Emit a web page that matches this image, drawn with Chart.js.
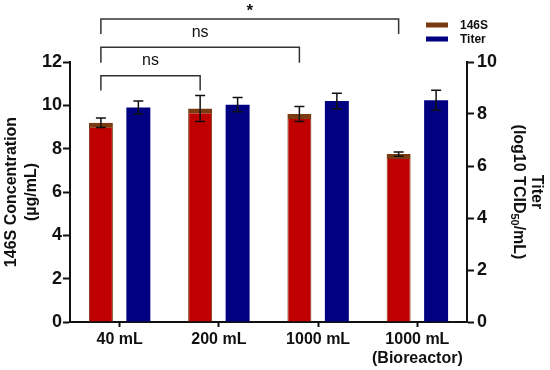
<!DOCTYPE html>
<html>
<head>
<meta charset="utf-8">
<script src="https://cdn.jsdelivr.net/npm/chart.js@4"></script>
<style>
  html, body { margin: 0; padding: 0; background: #fff; }
  #wrap { width: 550px; height: 370px; position: relative; }
</style>
</head>
<body>
<div id="wrap"><canvas id="c" width="550" height="370"></canvas></div>
<script>
// ---- data ----
const categories = ['40 mL', '200 mL', '1000 mL', ['1000 mL', '(Bioreactor)']];
const concValues = [9.2, 9.85, 9.6, 7.75];
const concErrors = [0.22, 0.6, 0.35, 0.1];
const titerValues = [8.25, 8.36, 8.5, 8.53];
const titerErrors = [0.25, 0.27, 0.3, 0.38];
const leftTicks = [0, 2, 4, 6, 8, 10, 12];
const rightTicks = [0, 2, 4, 6, 8, 10];
const compFrom = [0, 0, 0];
const compTo = [1, 2, 3];
const compLabels = ['ns', 'ns', '*'];

const FONT = '"Liberation Sans", Arial, Helvetica, sans-serif';
const RED = '#C00000';
const BROWN = '#7A3A12';
const NAVY = '#000080';

// error bars
const errorBars = {
  id: 'errorBars',
  afterDatasetsDraw(chart) {
    const ctx = chart.ctx;
    const errs = [concErrors, titerErrors];
    chart.data.datasets.forEach((ds, di) => {
      const meta = chart.getDatasetMeta(di);
      const scale = chart.scales[ds.yAxisID];
      meta.data.forEach((bar, i) => {
        const v = ds.data[i], e = errs[di][i];
        const yTop = scale.getPixelForValue(v + e);
        const yBot = scale.getPixelForValue(v - e);
        const x = bar.x;
        ctx.save();
        ctx.strokeStyle = '#111';
        ctx.lineWidth = 1.5;
        ctx.beginPath();
        ctx.moveTo(x, yTop); ctx.lineTo(x, yBot);
        ctx.moveTo(x - 5, yTop); ctx.lineTo(x + 5, yTop);
        ctx.moveTo(x - 5, yBot); ctx.lineTo(x + 5, yBot);
        ctx.stroke();
        ctx.restore();
      });
    });
  }
};

// brackets, legend, axis titles
const extras = {
  id: 'extras',
  afterDraw(chart) {
    const ctx = chart.ctx;
    const meta = chart.getDatasetMeta(0);
    // bracket levels (pixel y of bar and leg bottom), innermost first
    const levels = [[75.7, 90.5], [47.3, 62.7], [19, 34]];
    ctx.save();
    ctx.strokeStyle = '#333';
    ctx.lineWidth = 1.5;
    ctx.fillStyle = '#111';
    compFrom.forEach((f, k) => {
      const x1 = meta.data[f].x, x2 = meta.data[compTo[k]].x;
      const [yb, yl] = levels[k];
      ctx.beginPath();
      ctx.moveTo(x1, yl); ctx.lineTo(x1, yb); ctx.lineTo(x2, yb); ctx.lineTo(x2, yl);
      ctx.stroke();
      ctx.textAlign = 'center';
      ctx.textBaseline = 'alphabetic';
      if (compLabels[k] === '*') {
        ctx.font = 'bold 17px ' + FONT;
        ctx.fillText(compLabels[k], (x1 + x2) / 2, yb - 3);
      } else {
        ctx.font = '16px ' + FONT;
        ctx.fillText(compLabels[k], (x1 + x2) / 2, yb - 10.5);
      }
    });
    ctx.restore();

    // legend
    ctx.save();
    const legColors = [BROWN, NAVY];
    const legY = [25, 39];
    chart.data.datasets.forEach((ds, i) => {
      ctx.fillStyle = legColors[i];
      ctx.fillRect(426, legY[i] - 2.5, 22, 5);
      ctx.fillStyle = '#111';
      ctx.font = 'bold 12px ' + FONT;
      ctx.textAlign = 'left';
      ctx.textBaseline = 'middle';
      ctx.fillText(ds.label, 460, legY[i] + 0.5);
    });
    ctx.restore();

    // left title
    const cy = (chart.chartArea.top + chart.chartArea.bottom) / 2;
    ctx.save();
    ctx.fillStyle = '#111';
    ctx.font = 'bold 16px ' + FONT;
    ctx.textAlign = 'center';
    ctx.textBaseline = 'middle';
    ctx.translate(12, cy); ctx.rotate(-Math.PI / 2);
    ctx.fillText('146S Concentration', 0, 0);
    ctx.restore();
    ctx.save();
    ctx.fillStyle = '#111';
    ctx.font = 'bold 16px ' + FONT;
    ctx.textAlign = 'center';
    ctx.textBaseline = 'middle';
    ctx.translate(32, cy); ctx.rotate(-Math.PI / 2);
    ctx.fillText('(µg/mL)', 0, 0);
    ctx.restore();

    // right title
    ctx.save();
    ctx.fillStyle = '#111';
    ctx.font = 'bold 16px ' + FONT;
    ctx.textAlign = 'center';
    ctx.textBaseline = 'middle';
    ctx.translate(536, cy); ctx.rotate(Math.PI / 2);
    ctx.fillText('Titer', 0, 0);
    ctx.restore();
    ctx.save();
    ctx.fillStyle = '#111';
    ctx.translate(518, cy); ctx.rotate(Math.PI / 2);
    ctx.textBaseline = 'middle';
    ctx.textAlign = 'left';
    const p1 = '(log10 TCID', p2 = '50', p3 = '/mL)';
    ctx.font = 'bold 16px ' + FONT;
    const w1 = ctx.measureText(p1).width, w3 = ctx.measureText(p3).width;
    ctx.font = 'bold 11px ' + FONT;
    const w2 = ctx.measureText(p2).width;
    let x = -(w1 + w2 + w3) / 2;
    ctx.font = 'bold 16px ' + FONT;
    ctx.fillText(p1, x, 0); x += w1;
    ctx.font = 'bold 11px ' + FONT;
    ctx.fillText(p2, x, 4); x += w2;
    ctx.font = 'bold 16px ' + FONT;
    ctx.fillText(p3, x, 0);
    ctx.restore();
  }
};

new Chart(document.getElementById('c'), {
  type: 'bar',
  data: {
    labels: categories,
    datasets: [
      {
        label: '146S', data: concValues, yAxisID: 'y',
        backgroundColor: RED, borderColor: BROWN,
        borderWidth: { top: 5, left: 1, right: 1, bottom: 0 },
        borderSkipped: 'start',
        categoryPercentage: 0.755, barPercentage: 0.64
      },
      {
        label: 'Titer', data: titerValues, yAxisID: 'y1',
        backgroundColor: NAVY, borderWidth: 0,
        categoryPercentage: 0.755, barPercentage: 0.64
      }
    ]
  },
  options: {
    responsive: false,
    animation: false,
    layout: { padding: { top: 62, left: 0, right: 0, bottom: 0 } },
    plugins: { legend: { display: false }, tooltip: { enabled: false } },
    scales: {
      x: {
        offset: true,
        grid: { display: true, drawOnChartArea: false, offset: false, tickLength: 5, tickColor: '#111', tickWidth: 2 },
        border: { color: '#111', width: 2 },
        ticks: { color: '#111', font: { family: FONT, size: 16, weight: 'bold', lineHeight: 1.2 }, padding: 3, maxRotation: 0 },
        afterFit(s) { s.height = 48; }
      },
      y: {
        position: 'left', min: 0, max: 12,
        afterBuildTicks(s) { s.ticks = leftTicks.map(v => ({ value: v })); },
        grid: { display: true, drawOnChartArea: false, tickLength: 7, tickColor: '#111', tickWidth: 2 },
        border: { color: '#111', width: 2 },
        ticks: { color: '#111', font: { family: FONT, size: 18, weight: 'bold' }, padding: 1 },
        afterFit(s) { s.width = 70; }
      },
      y1: {
        position: 'right', min: 0, max: 10,
        afterBuildTicks(s) { s.ticks = rightTicks.map(v => ({ value: v })); },
        grid: { display: true, drawOnChartArea: false, tickLength: 7, tickColor: '#111', tickWidth: 2 },
        border: { color: '#111', width: 2 },
        ticks: { color: '#111', font: { family: FONT, size: 18, weight: 'bold' }, padding: 3 },
        afterFit(s) { s.width = 83; }
      }
    }
  },
  plugins: [errorBars, extras]
});
</script>
</body>
</html>
